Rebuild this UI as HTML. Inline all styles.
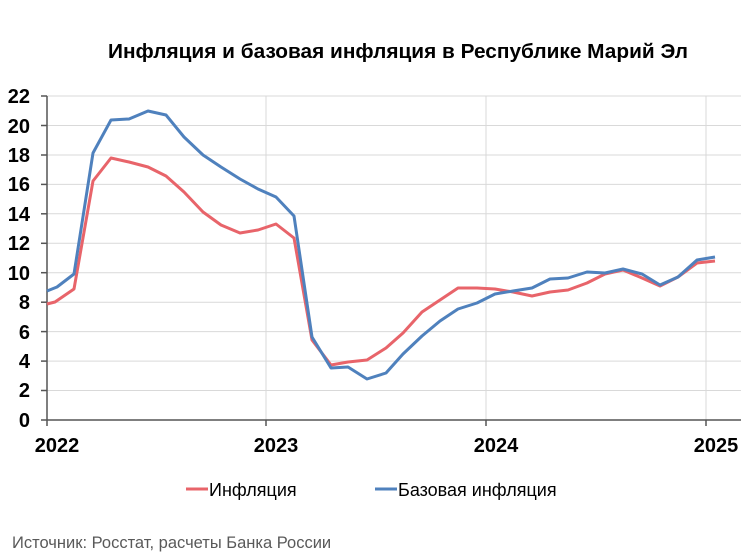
<!DOCTYPE html>
<html><head><meta charset="utf-8"><style>
html,body{margin:0;padding:0;background:#fff;}
svg{display:block;}
</style></head><body>
<svg width="746" height="559" viewBox="0 0 746 559" xmlns="http://www.w3.org/2000/svg">
<rect width="746" height="559" fill="#fff"/>
<text x="108" y="58" font-family="Liberation Sans, sans-serif" font-weight="bold" font-size="20" textLength="580" lengthAdjust="spacingAndGlyphs" fill="#000">Инфляция и базовая инфляция в Республике Марий Эл</text>
<g stroke="#d9d9d9" stroke-width="1">
<line x1="47" y1="96" x2="741" y2="96"/>
<line x1="47" y1="125.5" x2="741" y2="125.5"/>
<line x1="47" y1="155" x2="741" y2="155"/>
<line x1="47" y1="184.4" x2="741" y2="184.4"/>
<line x1="47" y1="213.8" x2="741" y2="213.8"/>
<line x1="47" y1="243.3" x2="741" y2="243.3"/>
<line x1="47" y1="272.7" x2="741" y2="272.7"/>
<line x1="47" y1="302.2" x2="741" y2="302.2"/>
<line x1="47" y1="331.6" x2="741" y2="331.6"/>
<line x1="47" y1="361.1" x2="741" y2="361.1"/>
<line x1="47" y1="390.5" x2="741" y2="390.5"/>
<line x1="266" y1="96" x2="266" y2="420"/>
<line x1="486" y1="96" x2="486" y2="420"/>
<line x1="706" y1="96" x2="706" y2="420"/>
</g>
<g stroke="#555" stroke-width="1.5">
<line x1="47" y1="96" x2="47" y2="426"/>
<line x1="41" y1="420" x2="741" y2="420"/>
<line x1="266" y1="420" x2="266" y2="426"/>
<line x1="486" y1="420" x2="486" y2="426"/>
<line x1="706" y1="420" x2="706" y2="426"/>
<g>
<line x1="41" y1="96" x2="47" y2="96"/><line x1="41" y1="125.5" x2="47" y2="125.5"/><line x1="41" y1="155" x2="47" y2="155"/><line x1="41" y1="184.4" x2="47" y2="184.4"/><line x1="41" y1="213.8" x2="47" y2="213.8"/><line x1="41" y1="243.3" x2="47" y2="243.3"/><line x1="41" y1="272.7" x2="47" y2="272.7"/><line x1="41" y1="302.2" x2="47" y2="302.2"/><line x1="41" y1="331.6" x2="47" y2="331.6"/><line x1="41" y1="361.1" x2="47" y2="361.1"/><line x1="41" y1="390.5" x2="47" y2="390.5"/>
</g>
</g>
<g font-family="Liberation Sans, sans-serif" font-weight="bold" font-size="20" fill="#000" text-anchor="end">
<text x="30" y="103">22</text><text x="30" y="133">20</text><text x="30" y="162">18</text><text x="30" y="191">16</text><text x="30" y="221">14</text><text x="30" y="250">12</text><text x="30" y="280">10</text><text x="30" y="309">8</text><text x="30" y="339">6</text><text x="30" y="368">4</text><text x="30" y="397">2</text><text x="30" y="427">0</text>
</g>
<g font-family="Liberation Sans, sans-serif" font-weight="bold" font-size="20" fill="#000" text-anchor="middle">
<text x="57" y="452">2022</text><text x="276" y="452">2023</text><text x="496" y="452">2024</text><text x="716" y="452">2025</text>
</g>
<polyline fill="none" stroke="#e8646a" stroke-width="3" stroke-linejoin="round" points="47,304 55,302 74,289 93,181 111,158 129,162 148,167 166,176 184,192 203,212 221,225 240,233 258,230 276,224 294,238 312,340 331,365 348,362 367,360 386,348 403,333 422,312 440,300 458,288 477,288 495,289 513,292 532,296 550,292 568,290 587,283 605,274 623,270 642,278 660,286 678,277 697,263 715,261"/>
<polyline fill="none" stroke="#4f81bd" stroke-width="3" stroke-linejoin="round" points="47,291 57,287 74,274 93,153 111,120 129,119 148,111 166,115 184,137 203,155 221,167 240,179 258,189 276,197 294,216 312,337 331,368 348,367 367,379 386,373 403,354 422,336 440,321 458,309 477,303 495,294 513,291 532,288 550,279 568,278 587,272 605,273 623,269 642,274 660,285 678,277 697,260 715,257"/>
<line x1="186" y1="489" x2="208" y2="489" stroke="#e8646a" stroke-width="3"/>
<text x="209" y="496" font-family="Liberation Sans, sans-serif" font-size="18" fill="#000">Инфляция</text>
<line x1="375" y1="489" x2="397" y2="489" stroke="#4f81bd" stroke-width="3"/>
<text x="398" y="496" font-family="Liberation Sans, sans-serif" font-size="18" fill="#000">Базовая инфляция</text>
<text x="12" y="548" font-family="Liberation Sans, sans-serif" font-size="16.5" fill="#595959">Источник: Росстат, расчеты Банка России</text>
</svg>
</body></html>
